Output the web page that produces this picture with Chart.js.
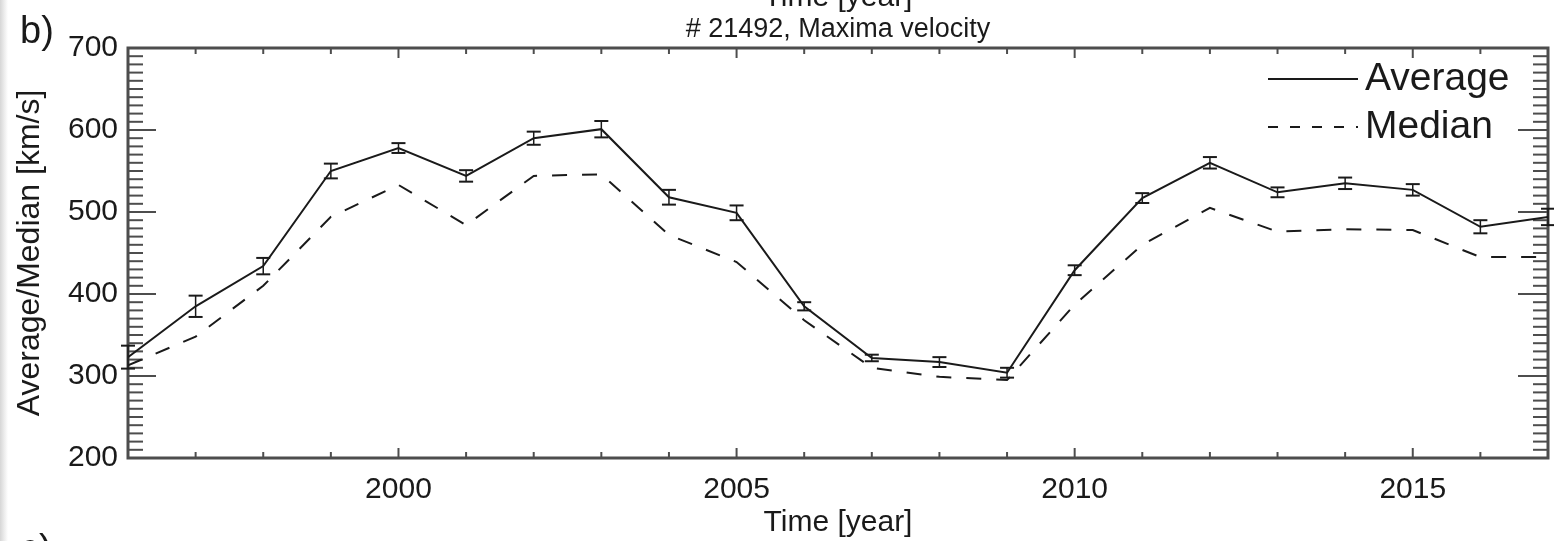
<!DOCTYPE html>
<html>
<head>
<meta charset="utf-8">
<script src="https://cdn.jsdelivr.net/npm/chart.js@4.4.0/dist/chart.umd.min.js"></script>
<style>
    html, body { margin: 0; padding: 0; }
    body {
        width: 1554px;
        height: 541px;
        overflow: hidden;
        background: linear-gradient(to right, #d6d6d6 0px, #ebebeb 4px, #ffffff 8px);
    }
</style>
</head>
<body>
<canvas id="velChart" width="1554" height="541"></canvas>
<script>
// yearly values
const years = [1996, 1997, 1998, 1999, 2000, 2001, 2002, 2003, 2004, 2005, 2006,
               2007, 2008, 2009, 2010, 2011, 2012, 2013, 2014, 2015, 2016, 2017];
const avgVel = [323, 385, 434, 550, 578, 544, 590, 601, 518, 499, 385,
                322, 317, 304, 429, 517, 560, 524, 535, 527, 482, 494];
const avgErr = [14, 13, 10, 9, 6, 7, 8, 10, 9, 9, 5,
                4, 6, 6, 6, 6, 7, 6, 7, 7, 8, 10];
const medVel = [313, 348, 410, 494, 533, 484, 544, 546, 472, 439, 368,
                310, 299, 295, 387, 460, 505, 476, 479, 478, 445, 445];

const seriesNames = ["Average", "Median"];
const xTickLabels = [2000, 2005, 2010, 2015];
const yTickLabels = [200, 300, 400, 500, 600, 700];

const FONT = "'Liberation Sans', Arial, Helvetica, sans-serif";
const INK = "#1a1a1a";
const AXIS_INK = "#4d4d4d";

Chart.defaults.font.family = FONT;
Chart.defaults.color = INK;

function strokeLine(ctx, x1, y1, x2, y2) {
    ctx.beginPath();
    ctx.moveTo(x1, y1);
    ctx.lineTo(x2, y2);
    ctx.stroke();
}

// box frame with inward minor/major ticks on all four sides
const frameTicks = {
    id: "frameTicks",
    beforeDatasetsDraw(chart) {
        const { ctx, chartArea: a, scales: { x, y } } = chart;
        ctx.save();
        ctx.strokeStyle = AXIS_INK;
        ctx.lineWidth = 2;
        for (let yr = x.min; yr <= x.max; yr++) {
            const px = x.getPixelForValue(yr);
            const len = xTickLabels.includes(yr) ? 10 : 6;
            strokeLine(ctx, px, a.bottom, px, a.bottom - len);
            strokeLine(ctx, px, a.top, px, a.top + len);
        }
        for (let v = y.min; v <= y.max; v += 10) {
            const py = y.getPixelForValue(v);
            const major = yTickLabels.includes(v);
            strokeLine(ctx, a.left, py, a.left + (major ? 28 : 15), py);
            strokeLine(ctx, a.right, py, a.right - (major ? 30 : 15), py);
        }
        ctx.lineWidth = 3;
        ctx.strokeRect(a.left, a.top, a.width, a.height);
        ctx.restore();
    }
};

const errorBars = {
    id: "errorBars",
    afterDatasetsDraw(chart) {
        const { ctx, scales: { x, y } } = chart;
        ctx.save();
        ctx.strokeStyle = INK;
        years.forEach((yr, i) => {
            const px = x.getPixelForValue(yr);
            const top = y.getPixelForValue(avgVel[i] + avgErr[i]);
            const bot = y.getPixelForValue(avgVel[i] - avgErr[i]);
            ctx.lineWidth = 1.5;
            strokeLine(ctx, px, top, px, bot);
            ctx.lineWidth = 2;
            strokeLine(ctx, px - 7, top, px + 7, top);
            strokeLine(ctx, px - 7, bot, px + 7, bot);
        });
        ctx.restore();
    }
};

const cornerLegend = {
    id: "cornerLegend",
    afterDraw(chart) {
        const { ctx, chartArea: a } = chart;
        ctx.save();
        ctx.font = "39px " + FONT;
        ctx.fillStyle = INK;
        ctx.strokeStyle = INK;
        ctx.lineWidth = 2;
        ctx.textBaseline = "alphabetic";
        ctx.textAlign = "left";
        chart.data.datasets.forEach((ds, i) => {
            const lineY = a.top + 31 + i * 48;
            ctx.setLineDash(i === 0 ? [] : [10, 12]);
            strokeLine(ctx, a.right - 280, lineY, a.right - 190, lineY);
            ctx.setLineDash([]);
            ctx.fillText(ds.label, a.right - 183, lineY + 11);
        });
        ctx.restore();
    }
};

// panel label, title and the clipped text of the neighbouring panels
const panelText = {
    id: "panelText",
    afterDraw(chart) {
        const { ctx, chartArea: a } = chart;
        const midX = (a.left + a.right) / 2;
        ctx.save();
        ctx.fillStyle = INK;
        ctx.textBaseline = "alphabetic";
        ctx.textAlign = "left";
        ctx.font = "38px " + FONT;
        ctx.fillText("b)", 20, 43);
        ctx.fillText("c)", 20, 561);
        ctx.textAlign = "center";
        ctx.font = "30px " + FONT;
        ctx.fillText("Time [year]", midX, 6);
        ctx.font = "27px " + FONT;
        ctx.fillText("# 21492, Maxima velocity", midX, 37);
        ctx.restore();
    }
};

const canvasID = document.getElementById("velChart");
const VelChart = new Chart(canvasID, {
    type: "line",
    data: {
        datasets: [{
            label: seriesNames[0],
            data: years.map((yr, i) => ({ x: yr, y: avgVel[i] })),
            borderColor: INK,
            borderWidth: 2,
            pointRadius: 0,
            fill: false,
            tension: 0
        }, {
            label: seriesNames[1],
            data: years.map((yr, i) => ({ x: yr, y: medVel[i] })),
            borderColor: INK,
            borderWidth: 2,
            borderDash: [15, 15],
            pointRadius: 0,
            fill: false,
            tension: 0
        }]
    },
    options: {
        responsive: false,
        animation: false,
        devicePixelRatio: 1,
        layout: {
            padding: { top: 48, right: 6, left: 0, bottom: 0 }
        },
        plugins: {
            legend: { display: false },
            title: { display: false },
            tooltip: { enabled: false }
        },
        scales: {
            x: {
                type: "linear",
                min: 1996,
                max: 2017,
                grid: { display: false, drawTicks: false },
                border: { display: false },
                afterBuildTicks: (scale) => {
                    scale.ticks = xTickLabels.map(v => ({ value: v }));
                },
                afterFit: (scale) => { scale.height = 83; },
                ticks: {
                    autoSkip: false,
                    maxRotation: 0,
                    padding: 14,
                    font: { size: 30 },
                    color: INK,
                    callback: (v) => String(v)
                },
                title: {
                    display: true,
                    text: "Time [year]",
                    font: { size: 30 },
                    color: INK,
                    padding: { top: 0, bottom: 0 }
                }
            },
            y: {
                min: 200,
                max: 700,
                grid: { display: false, drawTicks: false },
                border: { display: false },
                afterBuildTicks: (scale) => {
                    scale.ticks = yTickLabels.map(v => ({ value: v }));
                },
                afterFit: (scale) => { scale.width = 128; },
                ticks: {
                    padding: 10,
                    font: { size: 30 },
                    color: INK,
                    callback: (v) => String(v)
                },
                title: {
                    display: true,
                    text: "Average/Median [km/s]",
                    font: { size: 32 },
                    color: INK,
                    padding: { top: 11, bottom: 0 }
                }
            }
        }
    },
    plugins: [frameTicks, errorBars, cornerLegend, panelText]
});
</script>
</body>
</html>
